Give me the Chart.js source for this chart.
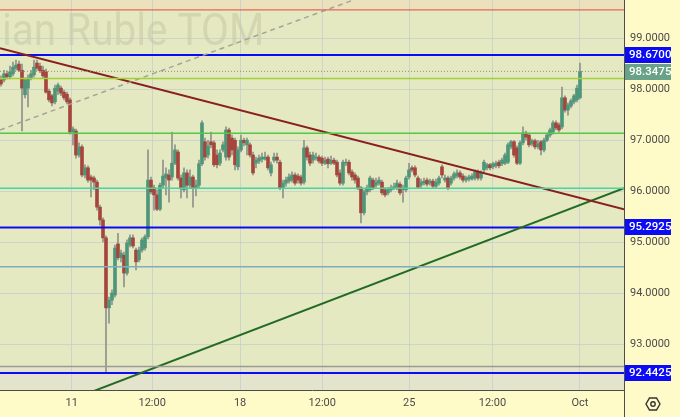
<!DOCTYPE html>
<html>
<head>
<meta charset="utf-8">
<script src="https://cdn.jsdelivr.net/npm/chart.js@4.4.0/dist/chart.umd.min.js"></script>
<style>
html, body { margin: 0; padding: 0; background: #fffbc9; }
#wrap { width: 680px; height: 417px; }
</style>
</head>
<body>
<div id="wrap"><canvas id="graph1" width="680" height="417"></canvas></div>
<script>
var ctx = document.getElementById('graph1');

// candles, one per bar (oldest first)
var opens = [
  98.18, 98.18, 98.30, 98.24, 98.30, 98.41, 98.49, 98.37, 97.89, 98.02,
  98.22, 98.28, 98.51, 98.45, 98.37, 98.34, 97.96, 97.87, 97.75, 97.96,
  98.02, 97.94, 97.90, 97.79, 97.16, 97.18, 96.71, 96.87, 96.32, 96.46,
  96.28, 96.26, 96.18, 95.69, 95.44, 95.09, 93.72, 93.87, 93.97, 94.97,
  94.70, 94.75, 94.40, 94.95, 95.09, 94.85, 94.66, 94.85, 94.89, 95.11,
  96.22, 96.07, 95.93, 95.65, 96.12, 96.26, 96.32, 96.28, 96.55, 96.77,
  96.26, 96.03, 96.36, 96.12, 96.28, 96.07, 96.12, 96.54, 96.97, 96.71,
  96.97, 96.95, 96.71, 96.55, 96.81, 96.67, 97.20, 97.04, 97.00, 96.48,
  96.81, 97.00, 96.91, 96.91, 96.71, 96.55, 96.59, 96.63, 96.63, 96.67,
  96.36, 96.61, 96.67, 96.57, 96.07, 96.16, 96.20, 96.22, 96.32, 96.30,
  96.28, 96.18, 96.85, 96.71, 96.61, 96.65, 96.67, 96.65, 96.55, 96.63,
  96.55, 96.61, 96.57, 96.36, 96.16, 96.55, 96.57, 96.38, 96.32, 96.26,
  96.07, 95.58, 95.99, 96.03, 96.22, 96.12, 96.16, 96.18, 96.03, 95.97,
  96.03, 96.07, 96.08, 96.14, 96.03, 96.03, 96.28, 96.46, 96.46, 96.26,
  96.12, 96.16, 96.22, 96.16, 96.20, 96.10, 96.16, 96.48, 96.22, 96.26,
  96.16, 96.26, 96.30, 96.36, 96.30, 96.22, 96.24, 96.24, 96.26, 96.38,
  96.26, 96.42, 96.46, 96.52, 96.48, 96.50, 96.57, 96.54, 96.55, 96.57,
  96.87, 96.97, 96.85, 96.55, 96.95, 97.14, 97.10, 96.93, 96.99, 96.87,
  96.97, 96.81, 97.00, 97.10, 97.16, 97.34, 97.30, 97.26, 97.83, 97.59,
  97.67, 97.75, 97.79, 97.83
];
var highs = [
  98.26, 98.37, 98.36, 98.45, 98.53, 98.57, 98.55, 98.49, 98.22, 98.28,
  98.37, 98.57, 98.57, 98.51, 98.45, 98.39, 98.00, 97.90, 98.08, 98.12,
  98.06, 97.98, 97.94, 97.83, 97.26, 97.22, 96.95, 96.91, 96.52, 96.50,
  96.32, 96.30, 96.22, 95.73, 95.48, 95.13, 93.93, 94.07, 94.95, 95.18,
  94.85, 94.81, 95.05, 95.15, 95.15, 94.89, 94.91, 95.09, 95.15, 96.81,
  96.28, 96.12, 96.03, 96.16, 96.61, 96.46, 96.42, 97.16, 96.91, 96.81,
  96.32, 96.46, 96.42, 96.42, 96.32, 96.22, 96.61, 97.38, 97.04, 97.00,
  97.16, 96.99, 96.81, 96.81, 96.97, 97.26, 97.24, 97.10, 97.04, 96.87,
  97.10, 97.04, 97.04, 96.95, 96.77, 96.67, 96.71, 96.75, 96.77, 96.71,
  96.57, 96.75, 96.75, 96.61, 96.22, 96.28, 96.34, 96.38, 96.36, 96.34,
  96.32, 97.00, 96.89, 96.77, 96.77, 96.75, 96.71, 96.69, 96.67, 96.67,
  96.69, 96.65, 96.61, 96.42, 96.61, 96.63, 96.61, 96.42, 96.36, 96.30,
  96.10, 96.03, 96.12, 96.30, 96.26, 96.26, 96.28, 96.22, 96.07, 96.08,
  96.12, 96.16, 96.22, 96.18, 96.12, 96.30, 96.55, 96.50, 96.50, 96.30,
  96.24, 96.26, 96.26, 96.24, 96.24, 96.24, 96.30, 96.52, 96.32, 96.30,
  96.30, 96.38, 96.42, 96.40, 96.34, 96.30, 96.32, 96.34, 96.42, 96.42,
  96.40, 96.61, 96.55, 96.55, 96.57, 96.59, 96.61, 96.65, 96.75, 96.95,
  97.00, 97.00, 96.89, 96.99, 97.26, 97.18, 97.14, 97.02, 97.02, 97.00,
  97.00, 97.04, 97.14, 97.24, 97.38, 97.38, 97.34, 98.04, 97.87, 97.73,
  97.81, 97.90, 98.08, 98.51
];
var lows = [
  98.06, 98.14, 98.20, 98.20, 98.26, 98.37, 98.34, 97.18, 97.83, 97.65,
  98.18, 98.24, 98.37, 98.32, 98.22, 97.92, 97.75, 97.67, 97.71, 97.89,
  97.87, 97.79, 97.71, 97.12, 96.91, 96.65, 96.67, 96.28, 96.26, 96.18,
  95.89, 96.03, 95.63, 95.34, 95.01, 92.46, 93.42, 93.78, 93.93, 94.66,
  94.62, 94.13, 94.36, 94.91, 94.89, 94.46, 94.62, 94.81, 94.85, 95.07,
  95.95, 95.63, 95.62, 95.62, 96.07, 95.93, 95.79, 96.22, 96.52, 96.22,
  95.87, 95.99, 95.87, 96.07, 95.69, 95.91, 96.07, 96.50, 96.61, 96.65,
  96.85, 96.48, 96.46, 96.50, 96.77, 96.61, 96.61, 96.71, 96.42, 96.42,
  96.77, 96.89, 96.71, 96.67, 96.32, 96.46, 96.54, 96.57, 96.61, 96.42,
  96.30, 96.57, 96.55, 96.03, 95.87, 96.10, 96.16, 96.18, 96.12, 96.16,
  96.12, 96.14, 96.61, 96.50, 96.55, 96.61, 96.55, 96.50, 96.52, 96.46,
  96.52, 96.52, 96.28, 96.12, 96.12, 96.50, 96.32, 96.22, 96.16, 96.03,
  95.38, 95.54, 95.93, 95.99, 96.03, 96.08, 96.12, 95.93, 95.89, 95.93,
  95.99, 96.03, 96.03, 95.93, 95.79, 95.99, 96.24, 96.38, 96.28, 96.05,
  96.07, 96.12, 96.10, 96.12, 96.07, 96.07, 96.12, 96.26, 96.18, 96.03,
  96.12, 96.22, 96.26, 96.24, 96.18, 96.18, 96.20, 96.22, 96.22, 96.22,
  96.22, 96.38, 96.42, 96.42, 96.44, 96.46, 96.46, 96.50, 96.52, 96.54,
  96.83, 96.67, 96.52, 96.52, 96.91, 97.00, 96.87, 96.89, 96.83, 96.83,
  96.71, 96.77, 96.97, 97.06, 97.12, 97.20, 97.16, 97.22, 97.55, 97.49,
  97.63, 97.71, 97.75, 97.81
];
var closes = [
  98.10, 98.30, 98.24, 98.34, 98.43, 98.47, 98.37, 98.02, 98.18, 98.22,
  98.30, 98.43, 98.41, 98.36, 98.26, 97.94, 97.79, 97.73, 98.02, 98.08,
  97.92, 97.83, 97.75, 97.16, 97.22, 96.71, 96.87, 96.32, 96.46, 96.22,
  96.22, 96.18, 95.69, 95.44, 95.09, 93.72, 93.87, 94.01, 94.89, 94.70,
  94.79, 94.40, 94.99, 95.09, 94.93, 94.62, 94.85, 95.05, 95.11, 96.22,
  95.99, 95.93, 95.65, 96.12, 96.30, 96.34, 96.22, 96.55, 96.81, 96.26,
  96.05, 96.36, 96.12, 96.28, 96.07, 96.12, 96.54, 97.34, 96.67, 96.89,
  96.91, 96.52, 96.52, 96.75, 96.91, 97.20, 96.67, 96.81, 96.52, 96.81,
  97.00, 96.95, 97.00, 96.71, 96.36, 96.61, 96.65, 96.67, 96.67, 96.46,
  96.52, 96.67, 96.61, 96.07, 96.16, 96.22, 96.28, 96.32, 96.16, 96.22,
  96.16, 96.85, 96.67, 96.55, 96.71, 96.67, 96.59, 96.55, 96.61, 96.54,
  96.61, 96.55, 96.32, 96.16, 96.57, 96.57, 96.36, 96.28, 96.22, 96.07,
  95.58, 95.99, 96.07, 96.26, 96.07, 96.18, 96.22, 95.97, 95.93, 96.03,
  96.07, 96.09, 96.16, 95.97, 96.07, 96.26, 96.42, 96.42, 96.32, 96.08,
  96.18, 96.20, 96.14, 96.20, 96.10, 96.18, 96.26, 96.32, 96.26, 96.07,
  96.26, 96.34, 96.36, 96.28, 96.22, 96.26, 96.28, 96.30, 96.38, 96.26,
  96.36, 96.57, 96.52, 96.46, 96.54, 96.55, 96.50, 96.61, 96.71, 96.91,
  96.97, 96.71, 96.55, 96.95, 97.14, 97.06, 96.91, 96.99, 96.87, 96.93,
  96.81, 97.00, 97.10, 97.20, 97.34, 97.24, 97.20, 97.83, 97.59, 97.69,
  97.77, 97.87, 98.02, 98.3475
];

// time axis (positions are bar numbers)
var xTickPos = [23.6, 50.4, 79.7, 107.1, 136.1, 163.8, 193];
var xTickLabels = ['11', '12:00', '18', '12:00', '25', '12:00', 'Oct'];
var yTicks = [93, 94, 95, 96, 97, 98, 99];

// drawn levels and trend lines
var lastPrice = 98.3475;
var blueLevels = [98.67, 95.2925, 92.4425];
var redLevel = 99.55;
var limeLevel = 98.21;
var greenLevel = 97.135;
var mintLevel = 96.06;
var steelLevel = 94.525;
var grayLevel = 92.57;
var downTrend = [98.80, 95.65];     // at left / right edge
var upTrend = [91.39, 96.06];       // at left / right edge
var dashedTrend = [97.20, 100.08];  // at left edge / bar 133
var dashedEndBar = 133;

var xMin = -0.33, xMax = 207.67;
var yMin = 92.112, yMax = 99.744;

var upColor = '#4d967a', downColor = '#a6453b';

function hLine(v, color, width, dash) {
  return {
    type: 'line',
    data: [{ x: xMin, y: v }, { x: xMax, y: v }],
    borderColor: color, borderWidth: width, borderDash: dash || [],
    pointRadius: 0, clip: 0, order: 1
  };
}
function seg(x0, y0, x1, y1, color, width, dash) {
  return {
    type: 'line',
    data: [{ x: x0, y: y0 }, { x: x1, y: y1 }],
    borderColor: color, borderWidth: width, borderDash: dash || [],
    pointRadius: 0, clip: 0, order: 1
  };
}

var datasets = [
  {
    type: 'bar',
    data: lows.map(function(l, i) { return { x: i, y: [l, highs[i]] }; }),
    backgroundColor: '#8f928a',
    barThickness: 1, grouped: false, order: 3
  },
  {
    type: 'bar',
    data: opens.map(function(o, i) { return { x: i, y: [o, closes[i]] }; }),
    backgroundColor: opens.map(function(o, i) { return closes[i] >= o ? upColor : downColor; }),
    barThickness: 3, grouped: false, minBarLength: 1, order: 2
  },
  hLine(redLevel, '#e4473f', 1),
  hLine(limeLevel, '#a2d03c', 1.5),
  hLine(greenLevel, '#4fc94a', 1.5),
  hLine(mintLevel, '#48d59b', 1.5),
  hLine(steelLevel, '#7eaebd', 1.5),
  hLine(grayLevel, '#9c9c92', 1.5),
  hLine(lastPrice, '#8d8d85', 1, [1, 2]),
  seg(xMin, dashedTrend[0], dashedEndBar, dashedTrend[1], '#a3a59a', 1.5, [5, 4]),
  seg(xMin, downTrend[0], xMax, downTrend[1], '#8a1f1f', 2),
  seg(xMin, upTrend[0], xMax, upTrend[1], '#236b24', 2)
];
blueLevels.forEach(function(v) { datasets.push(hLine(v, '#0b0bf5', 2)); });

var backdrop = {
  id: 'backdrop',
  beforeDraw: function(chart) {
    var c = chart.ctx, a = chart.chartArea, y = chart.scales.y;
    c.save();
    c.fillStyle = '#fffbc9';
    c.fillRect(0, 0, chart.width, chart.height);
    c.fillStyle = '#e5e9c2';
    c.fillRect(a.left, a.top, a.right - a.left, a.bottom - a.top);
    var yt = y.getPixelForValue(redLevel);
    c.fillStyle = '#ebe2bd';
    c.fillRect(a.left, a.top, a.right - a.left, yt - a.top);
    var yb = y.getPixelForValue(grayLevel);
    c.fillStyle = '#e3e4cb';
    c.fillRect(a.left, yb, a.right - a.left, a.bottom - yb);
    // watermark, its start cut off by the left edge
    c.beginPath();
    c.rect(a.left, a.top, a.right - a.left, a.bottom - a.top);
    c.clip();
    c.font = '400 44px Roboto, sans-serif';
    var k = 198 / c.measureText('Ruble TOM').width;
    var lead = c.measureText('U.S. Dollar / Russ').width * k;
    c.translate(2 - lead, 45);
    c.scale(k, 1);
    c.textAlign = 'left';
    c.textBaseline = 'alphabetic';
    c.fillStyle = 'rgba(95,95,60,0.13)';
    c.fillText('U.S. Dollar / Russian Ruble TOM', 0, 0);
    c.restore();
  },
  afterDraw: function(chart) {
    var c = chart.ctx, a = chart.chartArea, y = chart.scales.y;
    c.save();
    // axis border down to the bottom
    c.strokeStyle = '#4d4d4d';
    c.lineWidth = 1;
    c.beginPath();
    c.moveTo(a.right + 0.5, a.top);
    c.lineTo(a.right + 0.5, chart.height);
    c.stroke();
    // price tags
    function tag(v, bg, yOff) {
      var py = Math.round(y.getPixelForValue(v)) + (yOff || 0);
      c.fillStyle = bg;
      c.fillRect(a.right + 1, py - 8, 46, 16);
      c.fillStyle = '#ffffff';
      c.font = '500 11.5px Roboto, sans-serif';
      c.textAlign = 'left';
      c.textBaseline = 'middle';
      c.fillText(v.toFixed(4), a.right + 5, py + 0.5);
    }
    blueLevels.forEach(function(v) { tag(v, '#0b0bf5'); });
    tag(lastPrice, '#69a287', 1);
    // settings icon
    var cx = 653, cy = 404, r = 7;
    c.strokeStyle = '#333333';
    c.lineWidth = 1.4;
    c.beginPath();
    for (var k = 0; k < 6; k++) {
      var ang = Math.PI / 3 * k;
      var px = cx + r * Math.cos(ang), pyy = cy + r * Math.sin(ang);
      if (k === 0) c.moveTo(px, pyy); else c.lineTo(px, pyy);
    }
    c.closePath();
    c.stroke();
    c.beginPath();
    c.arc(cx, cy, 2.2, 0, Math.PI * 2);
    c.stroke();
    c.restore();
  }
};

function noPad(s) {
  s.paddingTop = 0; s.paddingBottom = 0; s.paddingLeft = 0; s.paddingRight = 0;
}

var myChart = new Chart(ctx, {
  type: 'bar',
  data: { datasets: datasets },
  options: {
    responsive: false,
    animation: false,
    events: [],
    layout: { padding: 0 },
    plugins: { legend: { display: false }, tooltip: { enabled: false } },
    scales: {
      x: {
        type: 'linear',
        min: xMin, max: xMax,
        offset: false,
        afterFit: function(s) { s.height = 27; noPad(s); },
        afterBuildTicks: function(s) { s.ticks = xTickPos.map(function(v) { return { value: v }; }); },
        grid: { color: 'rgba(186,198,214,0.6)', drawTicks: false, offset: false },
        border: { color: '#4d4d4d', width: 1 },
        ticks: {
          autoSkip: false, maxRotation: 0, padding: 7,
          color: '#4a4a4a', font: { family: 'Roboto', size: 11 },
          callback: function(v, i) { return xTickLabels[i]; }
        }
      },
      y: {
        position: 'right',
        min: yMin, max: yMax,
        afterFit: function(s) { s.width = 56; noPad(s); },
        afterBuildTicks: function(s) { s.ticks = yTicks.map(function(v) { return { value: v }; }); },
        grid: { color: 'rgba(186,198,214,0.6)', drawTicks: false },
        border: { color: '#4d4d4d', width: 1 },
        ticks: {
          padding: 6,
          color: '#4a4a4a', font: { family: 'Roboto', size: 11 },
          callback: function(v) { return Number(v).toFixed(4); }
        }
      }
    }
  },
  plugins: [backdrop]
});
</script>
</body>
</html>
